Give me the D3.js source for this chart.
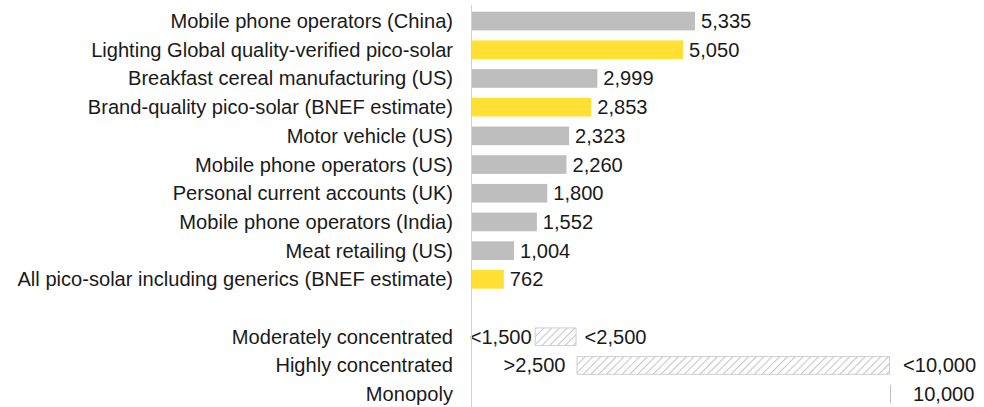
<!DOCTYPE html>
<html>
<head>
<meta charset="utf-8">
<script src="https://cdn.jsdelivr.net/npm/d3@7"></script>
<style>
  html, body { margin: 0; padding: 0; background: #fff; }
  svg { display: block; }
  text { font-family: "Liberation Sans", Arial, Helvetica, sans-serif; fill: #1a1a1a; }
</style>
</head>
<body>
<svg id="chart" width="984" height="407"></svg>
<script>
// ---- data ----
const categories = [
  "Mobile phone operators (China)",
  "Lighting Global quality-verified pico-solar",
  "Breakfast cereal manufacturing (US)",
  "Brand-quality pico-solar (BNEF estimate)",
  "Motor vehicle (US)",
  "Mobile phone operators (US)",
  "Personal current accounts (UK)",
  "Mobile phone operators (India)",
  "Meat retailing (US)",
  "All pico-solar including generics (BNEF estimate)"
];
const values = [5335, 5050, 2999, 2853, 2323, 2260, 1800, 1552, 1004, 762];
const groups = ["industry", "pico", "industry", "pico", "industry", "industry", "industry", "industry", "industry", "pico"];

const rangeCategories = ["Moderately concentrated", "Highly concentrated", "Monopoly"];
const rangeLow = [1500, 2500, 10000];
const rangeHigh = [2500, 10000, 10000];
const rangeLowLabels = ["<1,500", ">2,500", ""];
const rangeHighLabels = ["<2,500", "<10,000", "10,000"];

// ---- layout (styling only) ----
const W = 984, H = 407;
const axisX = 472;
const fontSize = 20.1;
const lowLabelGap = [3, 11, 0];
const highLabelGap = [8, 13, 23];

const svg = d3.select("#chart");

const rowKeys = categories.concat(["__gap__"], rangeCategories);

const y = d3.scaleBand()
  .domain(rowKeys)
  .range([6.7, 408.5])
  .paddingInner(0.35)
  .paddingOuter(0.175);

const x = d3.scaleLinear()
  .domain([0, 10000])
  .range([axisX, axisX + 418]);

const color = d3.scaleOrdinal()
  .domain(["industry", "pico"])
  .range(["#bfbebf", "#ffe033"]);

// hatch pattern
const defs = svg.append("defs");
const pat = defs.append("pattern")
  .attr("id", "hatch")
  .attr("patternUnits", "userSpaceOnUse")
  .attr("width", 5.5)
  .attr("height", 5.5)
  .attr("patternTransform", "rotate(45)");
pat.append("rect").attr("width", 5.5).attr("height", 5.5).attr("fill", "#ffffff");
pat.append("line")
  .attr("x1", 0).attr("y1", 0).attr("x2", 0).attr("y2", 5.5)
  .attr("stroke", "#c4c4c4").attr("stroke-width", 2);

// left labels (all rows)
const labelRows = categories.concat(rangeCategories);
svg.append("g")
  .selectAll("text")
  .data(labelRows)
  .join("text")
  .attr("x", 453)
  .attr("y", d => y(d) + y.bandwidth() / 2)
  .attr("dy", "0.35em")
  .attr("text-anchor", "end")
  .style("font-size", fontSize + "px")
  .text(d => d);

// main bars
const data = categories.map((c, i) => ({ c, v: values[i], g: groups[i] }));
svg.append("g")
  .selectAll("rect")
  .data(data)
  .join("rect")
  .attr("x", x(0))
  .attr("y", d => y(d.c))
  .attr("width", d => x(d.v) - x(0))
  .attr("height", y.bandwidth())
  .attr("fill", d => color(d.g));

svg.append("g")
  .selectAll("text")
  .data(data)
  .join("text")
  .attr("x", d => x(d.v) + 6)
  .attr("y", d => y(d.c) + y.bandwidth() / 2)
  .attr("dy", "0.35em")
  .style("font-size", fontSize + "px")
  .text(d => d3.format(",")(d.v));

// concentration ranges
const ranges = rangeCategories.map((c, i) => ({
  c, lo: rangeLow[i], hi: rangeHigh[i], loL: rangeLowLabels[i], hiL: rangeHighLabels[i],
  loGap: lowLabelGap[i], hiGap: highLabelGap[i]
}));

const rg = svg.append("g");
rg.selectAll("rect.range")
  .data(ranges.filter(d => d.hi > d.lo))
  .join("rect")
  .attr("class", "range")
  .attr("x", d => x(d.lo) + 0.5)
  .attr("y", d => y(d.c) + 0.5)
  .attr("width", d => x(d.hi) - x(d.lo) - 1)
  .attr("height", y.bandwidth() - 1)
  .attr("fill", "url(#hatch)")
  .attr("stroke", "#cfcfcf")
  .attr("stroke-width", 1);

rg.selectAll("line.mono")
  .data(ranges.filter(d => d.hi === d.lo))
  .join("line")
  .attr("class", "mono")
  .attr("x1", d => x(d.hi) + 0.5)
  .attr("x2", d => x(d.hi) + 0.5)
  .attr("y1", d => y(d.c))
  .attr("y2", d => y(d.c) + y.bandwidth())
  .attr("stroke", "#bfbfbf")
  .attr("stroke-width", 1);

rg.selectAll("text.lo")
  .data(ranges.filter(d => d.loL))
  .join("text")
  .attr("class", "lo")
  .attr("x", d => x(d.lo) - d.loGap)
  .attr("y", d => y(d.c) + y.bandwidth() / 2)
  .attr("dy", "0.35em")
  .attr("text-anchor", "end")
  .style("font-size", fontSize + "px")
  .text(d => d.loL);

rg.selectAll("text.hi")
  .data(ranges)
  .join("text")
  .attr("class", "hi")
  .attr("x", d => x(d.hi) + d.hiGap)
  .attr("y", d => y(d.c) + y.bandwidth() / 2)
  .attr("dy", "0.35em")
  .style("font-size", fontSize + "px")
  .text(d => d.hiL);

// category axis line
svg.append("line")
  .attr("x1", axisX - 0.5).attr("x2", axisX - 0.5)
  .attr("y1", 5).attr("y2", H)
  .attr("stroke", "#d0d0d0")
  .attr("stroke-width", 1);
</script>
</body>
</html>
